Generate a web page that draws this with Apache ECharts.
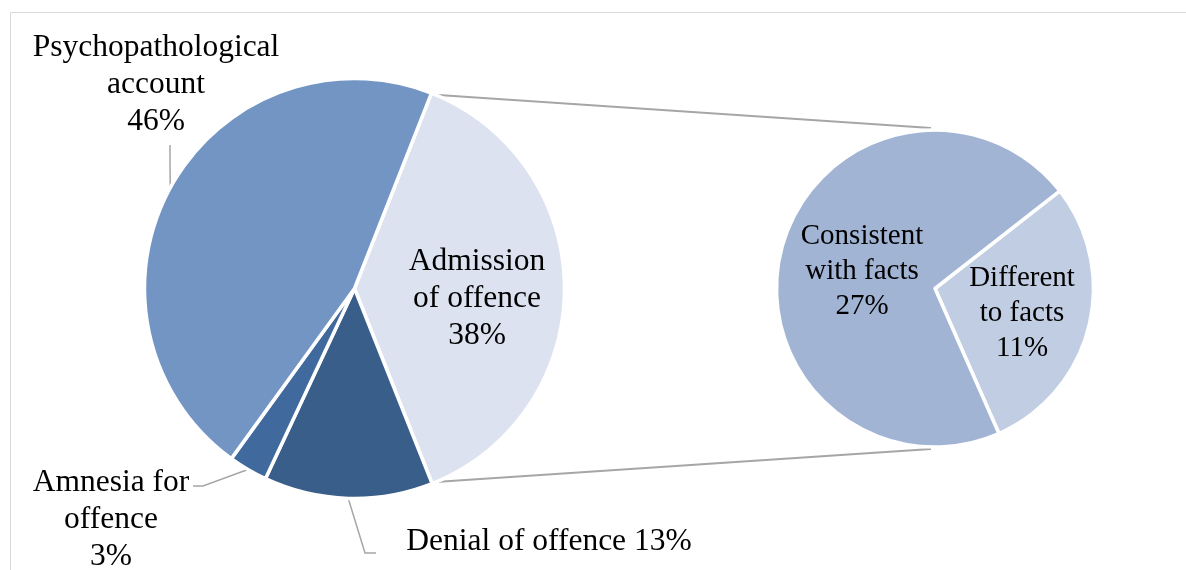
<!DOCTYPE html>
<html>
<head>
<meta charset="utf-8">
<script src="https://cdn.jsdelivr.net/npm/echarts@6/dist/echarts.min.js"></script>
<style>
  html, body { margin: 0; padding: 0; background: #fff; }
  #chart { width: 1186px; height: 570px; }
</style>
</head>
<body>
<div id="chart"></div>
<script>
// Main pie: how offenders accounted for the offence (% of all cases)
const mainNames = ['Admission\nof offence', 'Denial of offence', 'Amnesia for\noffence', 'Psychopathological\naccount'];
const mainValues = [38, 13, 3, 46];
const mainColors = ['#dce2ef', '#3a5e8a', '#406a9e', '#7395c4'];

// Secondary pie: breakdown of the admissions
const subNames = ['Different\nto facts', 'Consistent\nwith facts'];
const subValues = [11, 27];
const subColors = ['#c1cde2', '#a2b4d4'];

// Geometry of the two pies
const main = { cx: 354.5, cy: 288.5, r: 210, start: 68.5 };
const sub = { cx: 935, cy: 288.5, r: 158.5, start: 38 };

// Label anchor points (centre of each text block)
const mainLabelPos = [[477, 299], [549, 542], [111, 520], [156, 85]];
const mainLeaderTail = [null, [[365, 553], [376, 553]], [[203, 486], [193, 486]], [[170, 166], [170, 145]]];
const subLabelPos = [[1022, 313], [862, 271]];

const fmt = p => p.name.indexOf('\n') >= 0 ? p.name + '\n' + p.value + '%' : p.name + ' ' + p.value + '%';

const chart = echarts.init(document.getElementById('chart'), null, { renderer: 'canvas' });

// Connector lines run from the edges of the exploded slice to the top and bottom of the secondary pie
const total = mainValues.reduce((a, b) => a + b, 0);
const a0 = (90 - main.start) * Math.PI / 180;
const a1 = a0 + mainValues[0] / total * 2 * Math.PI;
const edge = (a, rr) => [main.cx + rr * Math.sin(a), main.cy - rr * Math.cos(a)];
const rEdge = main.r - 1.5;
const pTop = edge(a0, rEdge), pBot = edge(a1, rEdge);
const subTop = [sub.cx - 4, sub.cy - sub.r - 2];
const subBot = [sub.cx - 4, sub.cy + sub.r + 2];

const lineStyle = { stroke: '#a6a6a6', lineWidth: 2 };

chart.setOption({
  animation: false,
  backgroundColor: '#fff',
  graphic: [
    { type: 'rect', shape: { x: 10.5, y: 12.5, width: 1300, height: 700 }, style: { fill: 'none', stroke: '#d9d9d9', lineWidth: 1 }, z: -10, silent: true },
    { type: 'line', shape: { x1: pTop[0], y1: pTop[1], x2: subTop[0], y2: subTop[1] }, style: lineStyle, z: -5, silent: true },
    { type: 'line', shape: { x1: pBot[0], y1: pBot[1], x2: subBot[0], y2: subBot[1] }, style: lineStyle, z: -5, silent: true }
  ],
  series: [
    {
      type: 'pie',
      center: [main.cx, main.cy],
      radius: main.r,
      startAngle: main.start,
      clockwise: true,
      avoidLabelOverlap: false,
      silent: true,
      itemStyle: { borderColor: '#fff', borderWidth: 3.5 },
      label: {
        show: true,
        position: 'outside',
        formatter: fmt,
        fontFamily: 'Liberation Serif',
        fontSize: 31.5,
        lineHeight: 37,
        color: '#000',
        align: 'center'
      },
      labelLine: { show: true, lineStyle: { color: '#a6a6a6', width: 1.5 } },
      labelLayout: params => {
        const i = params.dataIndex;
        const pos = mainLabelPos[i];
        const res = { x: pos[0], y: pos[1], align: 'center', verticalAlign: 'middle' };
        const tail = mainLeaderTail[i];
        if (tail) {
          const head = (params.labelLinePoints && params.labelLinePoints[0]) || tail[0];
          res.labelLinePoints = [head, tail[0], tail[1]];
        }
        return res;
      },
      data: mainNames.map((n, i) => ({
        name: n,
        value: mainValues[i],
        itemStyle: { color: mainColors[i] },
        labelLine: { show: mainLeaderTail[i] !== null }
      }))
    },
    {
      type: 'pie',
      center: [sub.cx, sub.cy],
      radius: sub.r,
      startAngle: sub.start,
      clockwise: true,
      avoidLabelOverlap: false,
      silent: true,
      itemStyle: { borderColor: '#fff', borderWidth: 3.5 },
      label: {
        show: true,
        position: 'inside',
        formatter: fmt,
        fontFamily: 'Liberation Serif',
        fontSize: 29,
        lineHeight: 35,
        color: '#000',
        align: 'center'
      },
      labelLine: { show: false },
      labelLayout: params => {
        const pos = subLabelPos[params.dataIndex];
        return { x: pos[0], y: pos[1], align: 'center', verticalAlign: 'middle' };
      },
      data: subNames.map((n, i) => ({
        name: n,
        value: subValues[i],
        itemStyle: { color: subColors[i] }
      }))
    }
  ]
});
</script>
</body>
</html>
